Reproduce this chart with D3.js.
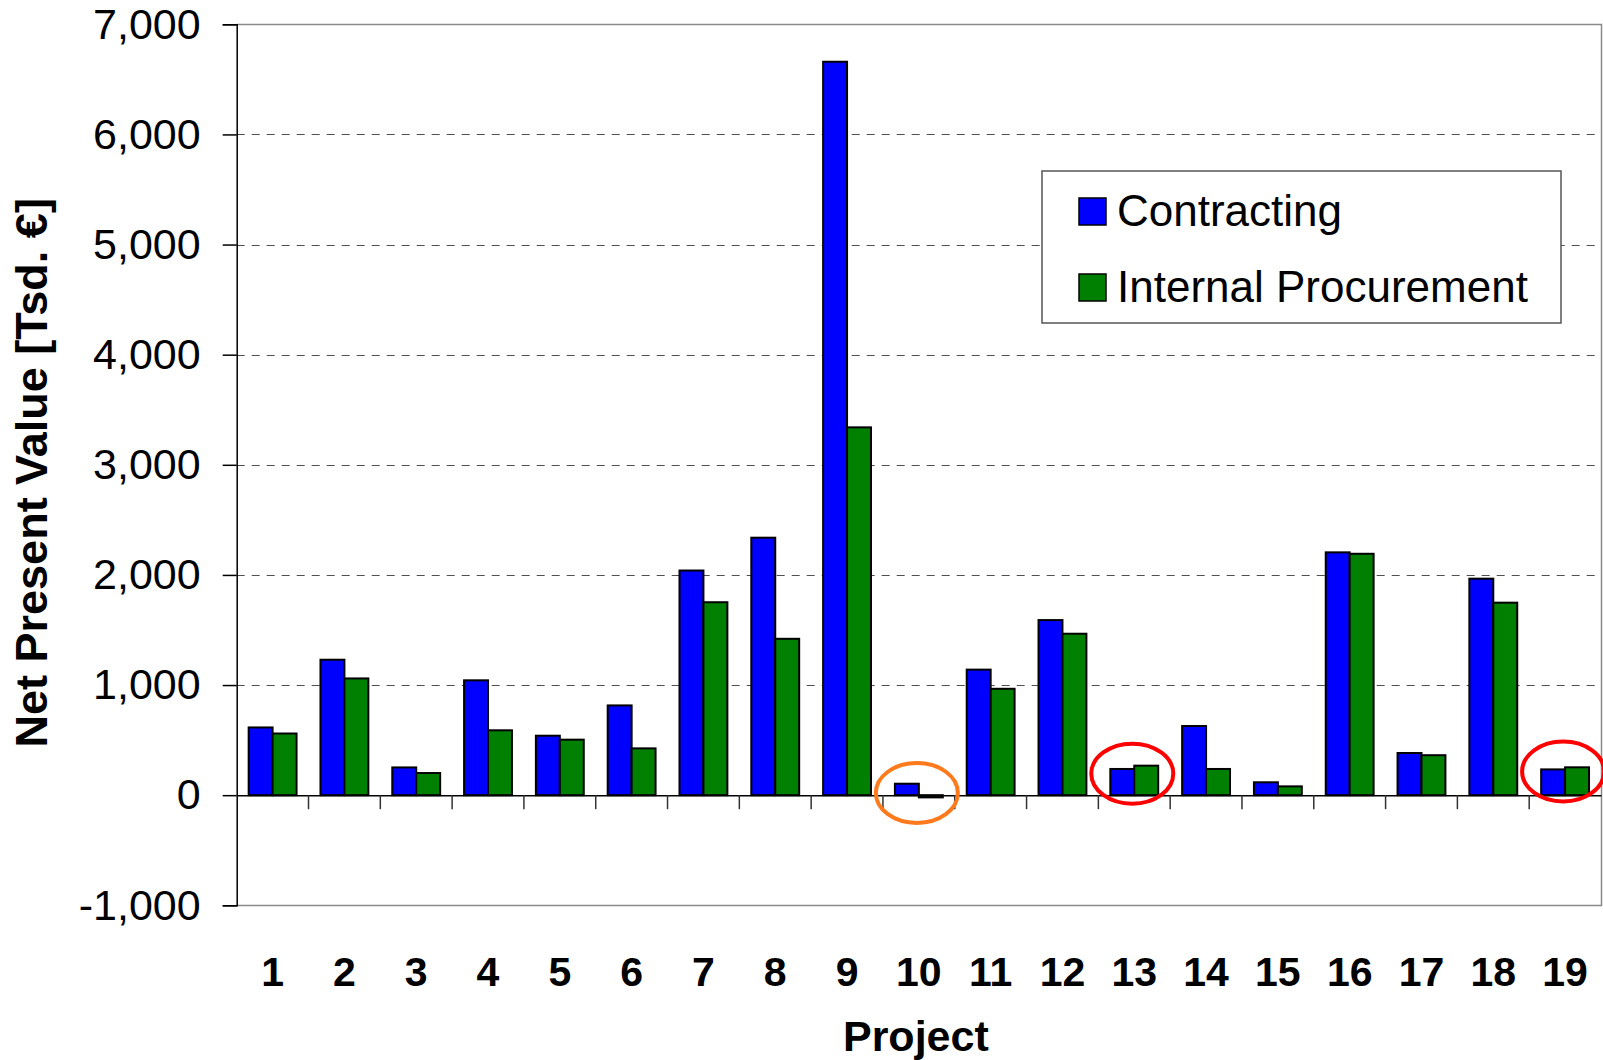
<!DOCTYPE html>
<html>
<head>
<meta charset="utf-8">
<script src="https://cdn.jsdelivr.net/npm/d3@7"></script>
<style>
  html, body { margin: 0; padding: 0; background: #fff; }
  svg { display: block; font-family: "Liberation Sans", Arial, sans-serif; }
</style>
</head>
<body>
<svg id="chart" width="1603" height="1060"></svg>
<script>
// Net present value per project, thousands of euros
const projects = ["1","2","3","4","5","6","7","8","9","10","11","12","13","14","15","16","17","18","19"];
const seriesNames = ["Contracting", "Internal Procurement"];
const contracting = [615, 1230, 252, 1043, 540, 815, 2040, 2338, 6660, 104, 1140, 1590, 238, 628, 117, 2205, 383, 1966, 234];
const internalProcurement = [560, 1060, 201, 589, 504, 425, 1752, 1420, 3340, -20, 966, 1466, 268, 238, 80, 2192, 363, 1748, 253];
const yTicks = [-1000, 0, 1000, 2000, 3000, 4000, 5000, 6000, 7000];
// Highlighted projects (ellipse around the bar pair)
const highlights = [
  { project: "10", value: 20, color: "#ff7a1c" },
  { project: "13", value: 195, color: "#ff0000" },
  { project: "19", value: 215, color: "#ff0000" }
];

const colors = { "Contracting": "#0000ff", "Internal Procurement": "#008000" };

const svg = d3.select("#chart");
const plot = { left: 236.7, right: 1601, top: 24.3, bottom: 905.3 };

const y = d3.scaleLinear().domain([-1000, 7000]).range([plot.bottom, plot.top]);
const x0 = d3.scaleBand().domain(projects).range([plot.left, plot.right]).padding(0);
const bw = x0.bandwidth();
const x1 = d3.scaleBand().domain(seriesNames).range([bw / 6, bw * 5 / 6]).padding(0);

// Thousands separator with a plain hyphen for negatives
const fmt = v => d3.format(",")(v).replace("\u2212", "-");

// Horizontal dashed gridlines
svg.append("g")
  .selectAll("line")
  .data(yTicks.filter(t => t !== 0 && t !== -1000 && t !== 7000))
  .join("line")
  .attr("x1", plot.left).attr("x2", plot.right)
  .attr("y1", d => Math.round(y(d)) + 0.5).attr("y2", d => Math.round(y(d)) + 0.5)
  .attr("stroke", "#505050").attr("stroke-width", 1)
  .attr("stroke-dasharray", "8,7");

// Plot-area border (top, right, bottom)
svg.append("path")
  .attr("d", `M${plot.left},${Math.round(plot.top) + 0.5} H${plot.right + 0.5} V${Math.round(plot.bottom) + 0.5} H${plot.left}`)
  .attr("fill", "none").attr("stroke", "#8a8a8a").attr("stroke-width", 1.5);

// Bars
const rows = projects.map((p, i) => ({ project: p, values: [
  { key: "Contracting", value: contracting[i] },
  { key: "Internal Procurement", value: internalProcurement[i] }
]}));

const groups = svg.append("g")
  .selectAll("g")
  .data(rows)
  .join("g")
  .attr("transform", d => `translate(${x0(d.project)},0)`);

groups.selectAll("rect")
  .data(d => d.values)
  .join("rect")
  .attr("x", d => x1(d.key))
  .attr("width", x1.bandwidth())
  .attr("y", d => y(Math.max(0, d.value)))
  .attr("height", d => Math.abs(y(d.value) - y(0)))
  .attr("fill", d => colors[d.key])
  .attr("stroke", "#000").attr("stroke-width", 2);

// Y axis
const yAxis = d3.axisLeft(y).tickValues(yTicks).tickFormat(fmt).tickSize(14).tickPadding(22);
const gy = svg.append("g").attr("transform", `translate(${plot.left},0)`).call(yAxis);
gy.select(".domain").attr("stroke", "#000").attr("stroke-width", 1.5);
gy.selectAll(".tick line").attr("stroke", "#000").attr("stroke-width", 1.5);
gy.selectAll(".tick text")
  .attr("font-size", 43).attr("fill", "#000")
  .attr("font-family", "'Liberation Sans', Arial, sans-serif");

// Zero line with category tick marks
const xAxis = d3.axisBottom(x0).tickSize(0).tickFormat(() => "");
const gx = svg.append("g").attr("transform", `translate(0,${y(0)})`).call(xAxis);
gx.select(".domain").attr("stroke", "#000").attr("stroke-width", 1.5);
gx.selectAll(".tick").remove();
gx.selectAll("line.sep")
  .data(projects.slice(1))
  .join("line")
  .attr("class", "sep")
  .attr("x1", d => x0(d)).attr("x2", d => x0(d))
  .attr("y1", 0).attr("y2", 14)
  .attr("stroke", "#333").attr("stroke-width", 1.5);

// Category labels
svg.append("g")
  .selectAll("text")
  .data(projects)
  .join("text")
  .attr("x", d => x0(d) + bw / 2)
  .attr("y", 986)
  .attr("text-anchor", "middle")
  .attr("font-size", 41).attr("font-weight", "bold")
  .text(d => d);

// Axis titles
svg.append("text")
  .attr("x", (plot.left + plot.right) / 2 - 3)
  .attr("y", 1051)
  .attr("text-anchor", "middle")
  .attr("font-size", 43).attr("font-weight", "bold")
  .text("Project");

svg.append("text")
  .attr("transform", `translate(47,${(plot.top + plot.bottom) / 2 + 8}) rotate(-90)`)
  .attr("text-anchor", "middle")
  .attr("font-size", 45).attr("font-weight", "bold")
  .text("Net Present Value [Tsd. €]");

// Highlight ellipses
svg.append("g")
  .selectAll("ellipse")
  .data(highlights)
  .join("ellipse")
  .attr("cx", d => x0(d.project) + bw / 2 - 2)
  .attr("cy", d => y(d.value))
  .attr("rx", 41).attr("ry", 30)
  .attr("fill", "none")
  .attr("stroke", d => d.color).attr("stroke-width", 4);

// Legend
const legend = svg.append("g").attr("transform", "translate(1042,171)");
legend.append("rect")
  .attr("width", 519).attr("height", 152)
  .attr("fill", "#fff").attr("stroke", "#555").attr("stroke-width", 1.5);
const items = legend.selectAll("g.item")
  .data(seriesNames)
  .join("g")
  .attr("class", "item")
  .attr("transform", (d, i) => `translate(37,${27 + i * 76})`);
items.append("rect")
  .attr("width", 27).attr("height", 27)
  .attr("fill", d => colors[d])
  .attr("stroke", "#000").attr("stroke-width", 1.5);
items.append("text")
  .attr("x", 38).attr("y", 28)
  .attr("font-size", 44)
  .text(d => d);
</script>
</body>
</html>
